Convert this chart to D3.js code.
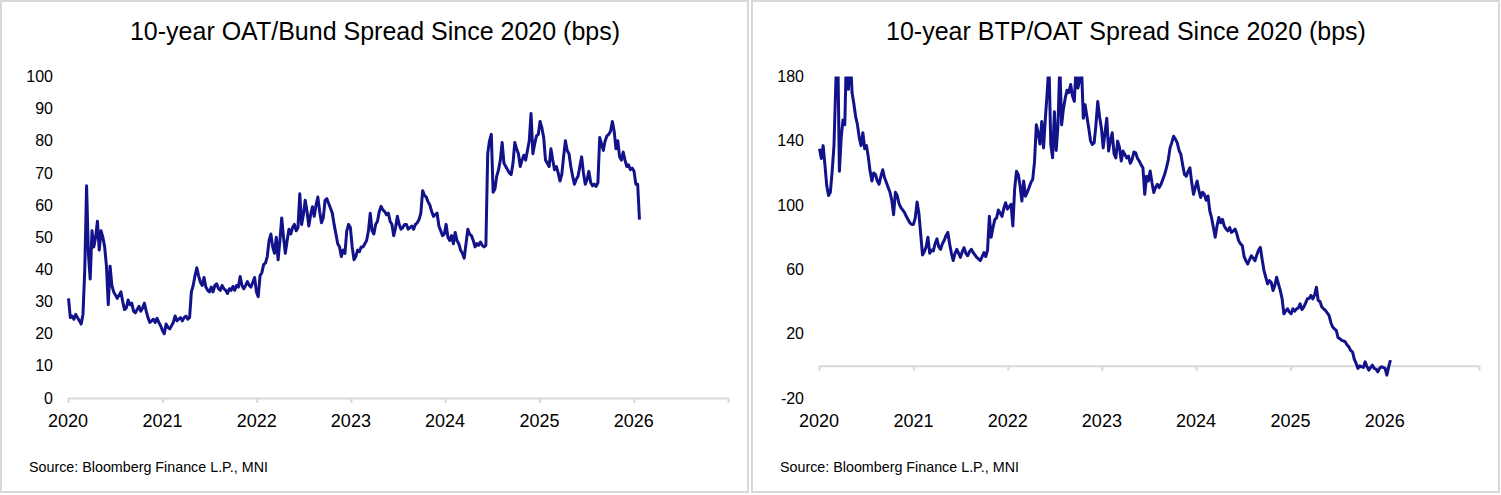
<!DOCTYPE html>
<html><head><meta charset="utf-8">
<script src="https://cdn.jsdelivr.net/npm/d3@7"></script>
<style>
body{margin:0;background:#fff;}
text{font-family:"Liberation Sans",Arial,sans-serif;fill:#000;}
</style>
</head><body>
<svg id="c" width="1501" height="495"></svg>
<script>
// ---- data (weekly readings, first week ending 2020-01-03) ----
const firstWeek = "2020-01-03";
const yearTicks = [2020, 2021, 2022, 2023, 2024, 2025, 2026, 2027];
const yearLabels = ["2020", "2021", "2022", "2023", "2024", "2025", "2026"];
const oatBundTicks = [0, 10, 20, 30, 40, 50, 60, 70, 80, 90, 100];
const btpOatTicks = [-20, 20, 60, 100, 140, 180];
const titles = ["10-year OAT/Bund Spread Since 2020 (bps)", "10-year BTP/OAT Spread Since 2020 (bps)"];
const sourceText = "Source: Bloomberg Finance L.P., MNI";

const oatBundSpread = [
  // 2020
  31, 25, 25.5, 24.5, 26, 25, 24, 23, 26, 40,
  66, 45, 37, 52, 47, 50, 55, 46, 52, 50,
  47, 41, 29, 41, 35, 33, 32, 31, 32, 33,
  30, 27.5, 28, 30.5, 29, 29.5, 27, 26.5, 27.5, 28.5,
  27, 28, 29.5, 27, 25, 23.5, 24, 24.5, 23.5, 24.8,
  23.5, 22.5,
  // 2021
  21, 20, 23, 22, 21.5, 22.5, 23.5, 25.5, 24, 24.5,
  25, 24, 25, 25.5, 24.5, 25, 33, 35, 38, 40.5,
  38, 36, 35, 37.5, 34.5, 33.5, 33, 34.5, 33, 35,
  35.5, 34, 33.5, 35, 34, 33.5, 32.5, 34, 33.5, 34.7,
  33.5, 35, 34.5, 37.8, 35, 34, 35, 36.2, 35, 34.5,
  36, 37.5,
  // 2022
  33, 31.5, 38, 39, 41.5, 42, 44, 49, 51, 47,
  45, 50, 43, 49, 56, 50, 45, 49, 52.5, 51,
  53, 54, 52, 53, 63.5, 54, 57, 61.5, 58, 53.5,
  57, 59.5, 56.5, 60, 62.5, 58, 54.5, 56, 61.5, 62,
  60.5, 59, 57.5, 54, 51, 48, 47, 44, 46, 45,
  52, 54,
  // 2023
  53, 47, 43, 44, 46, 45.5, 47, 47, 48, 49,
  52, 57.5, 52, 51, 54, 55, 58, 59.6, 58.5, 58,
  57, 57.5, 55, 54, 50.5, 53, 56.5, 54, 52.5, 53,
  54, 54, 52.5, 53, 53.5, 52.5, 54, 54.5, 55.5, 57.5,
  64.5, 63, 62.5, 61, 60, 58, 56.5, 57, 57.5, 53.5,
  52, 50.5,
  // 2024
  51, 54, 50, 49, 50.5, 48, 51.5, 49, 48, 46,
  45, 43.5, 48, 52.5, 51, 50.5, 49, 47, 48, 47.5,
  48.5, 47.5, 47, 47.5, 76, 80, 82, 64, 65, 69,
  71, 74, 79.5, 73, 72, 71, 70, 69.5, 73, 79.5,
  77.5, 76, 72, 74, 75.5, 74, 77, 80, 88.5, 76,
  79, 81.5,
  // 2025
  82, 86, 84, 81, 74, 73, 72, 77.5, 74, 71,
  72, 70, 67.5, 69.5, 75, 80, 77, 76, 72, 69,
  66.5, 68, 69, 72, 75, 70, 66.5, 68, 70.5, 67,
  66, 66.5, 65.8, 67, 81, 79, 77, 80, 81.5, 82,
  83, 86, 83, 77.5, 80, 75, 74, 76.5, 74, 72,
  72.5, 71,
  // 2026
  71.5, 70.5, 66.5, 66.5, 55.5
];

const btpOatSpread = [
  // 2020
  135, 129, 137, 125, 112, 106, 108, 121, 137, 175,
  205, 121, 142, 153, 150, 200, 172, 195, 170, 163,
  155, 150, 142, 137, 145, 135, 137, 130, 121, 115,
  120, 119, 115, 113, 118, 122, 117, 114, 111, 108,
  103, 94, 108, 106, 101, 98.5, 97, 95.5, 93, 91,
  89, 88,
  // 2021
  88, 92, 102, 95, 82, 69, 71, 74, 80, 70,
  72, 71.5, 76, 79, 74, 72.5, 76, 78, 81, 83,
  76, 70, 65.5, 70, 72.5, 70, 67.5, 71, 73.5, 70,
  68.5, 71, 72.5, 70.5, 69, 67.5, 66.5, 65.5, 68, 70.5,
  68, 72, 93, 80, 86, 91, 92, 97, 95, 93,
  98, 101.5,
  // 2022
  97.5, 99, 100.5, 87, 110, 121, 119, 112, 102.5, 115,
  105.5, 108, 111, 114, 116, 127, 150, 145, 138, 152,
  135.6, 154, 170, 188, 137.7, 129.5, 158, 134, 150, 188,
  150, 160, 166.5, 171.5, 170, 175, 168, 164.5, 185, 172.8,
  178, 186, 154, 162.5, 155, 148, 140, 137.7, 138.7, 150,
  164.5, 155,
  // 2023
  148, 135.6, 145, 154, 133.6, 140, 145, 132, 129.4, 139.8,
  136, 127.4, 133.6, 131.5, 129.4, 130.5, 126, 128.4, 133, 132.5,
  129, 127.4, 125, 123.2, 106.7, 118, 115, 121.2, 114, 107.8,
  111, 112.9, 110.9, 113, 116, 119, 123.2, 128, 135.6, 139,
  142.8, 141, 138.7, 134, 131.5, 125, 119.1, 118, 121, 123.2,
  114, 106.7,
  // 2024
  111, 115, 109, 104.7, 108, 106.7, 103, 105.7, 96.4, 92,
  86.1, 80, 87, 92.3, 89, 91.2, 87, 85.1, 84, 86,
  83, 84, 85.1, 82, 77.8, 76, 74.7, 68, 65.4, 63.4,
  66, 68.5, 67, 65.4, 69, 72, 73.7, 66, 59.3, 55,
  51, 53, 52, 46.9, 50, 55.1, 51, 46.9, 42, 32.4,
  34, 35.5,
  // 2025
  33.5, 32.4, 35.5, 34, 35.5, 36, 38.6, 35, 36.6, 39,
  41.7, 42, 43.8, 41.7, 44, 48.9, 40.7, 40, 36.6, 35.5,
  34.5, 33, 31.4, 27, 24.2, 23, 22.1, 17.5, 16.9, 15.9,
  15.5, 14.9, 13, 11.8, 9.5, 8.7, 4, 1.5, -1.6, 0,
  -0.6, -1, 2.5, -0.5, -2.7, -1, 0.4, -1.6, -2, -3.7,
  -1.5, -0.6,
  // 2026
  -1, -1.6, -5.8, -0.6, 3.5
];

// ---- drawing ----
const svg = d3.select("#c");
const parse = d3.timeParse("%Y-%m-%d");
const start = parse(firstWeek);
const toSeries = vals => vals.map((v, i) => ({date: d3.timeDay.offset(start, 7 * i), value: v}));

function panel(ox, title, values, yDomain, yTicks, id) {
  const g = svg.append("g").attr("transform", `translate(${ox},0)`);
  g.append("rect").attr("x", 1).attr("y", 1).attr("width", 747).attr("height", 491)
    .attr("fill", "#fff").attr("stroke", "#d9d9d9").attr("stroke-width", 2);

  g.append("text").attr("x", 375).attr("y", 40).attr("text-anchor", "middle")
    .style("font-size", "25px").text(title);

  const x = d3.scaleTime().domain([new Date(2020, 0, 1), new Date(2027, 0, 1)]).range([68, 728]);
  const y = d3.scaleLinear().domain(yDomain).range([398, 76.5]);

  // y labels
  const ya = g.append("g").attr("transform", "translate(68,0)")
    .call(d3.axisLeft(y).tickValues(yTicks).tickSize(0).tickPadding(15).tickFormat(d => String(d)));
  ya.select(".domain").remove();
  ya.selectAll("text").style("font-size", "16px").style("font-family", "'Liberation Sans',Arial,sans-serif").attr("fill", "#000");

  // x axis at zero
  const xa = g.append("g").attr("transform", `translate(0,${y(0)})`)
    .call(d3.axisBottom(x).tickValues(yearTicks.map(yr => new Date(yr, 0, 1))).tickSize(5).tickSizeOuter(0).tickFormat(""));
  xa.select(".domain").attr("stroke", "#d9d9d9").attr("stroke-width", 2);
  xa.selectAll(".tick line").attr("stroke", "#d9d9d9").attr("stroke-width", 2);

  // x labels (low position)
  g.selectAll(".xl").data(yearLabels).enter().append("text")
    .attr("x", d => x(new Date(+d, 0, 1))).attr("y", 427)
    .attr("text-anchor", "middle").style("font-size", "18px").text(d => d);

  // clip
  g.append("clipPath").attr("id", id).append("rect")
    .attr("x", 0).attr("y", 76.5).attr("width", 750).attr("height", 420);

  const line = d3.line().x(d => x(d.date)).y(d => y(d.value));
  g.append("path").datum(toSeries(values)).attr("clip-path", `url(#${id})`)
    .attr("d", line).attr("fill", "none").attr("stroke", "#12128a")
    .attr("stroke-width", 3).attr("stroke-linejoin", "round");

  g.append("text").attr("x", 29).attr("y", 472).style("font-size", "14.3px").text(sourceText);
}

panel(0, titles[0], oatBundSpread, [0, 100], oatBundTicks, "clipL");
panel(751, titles[1], btpOatSpread, [-20, 180], btpOatTicks, "clipR");
</script>
</body></html>
